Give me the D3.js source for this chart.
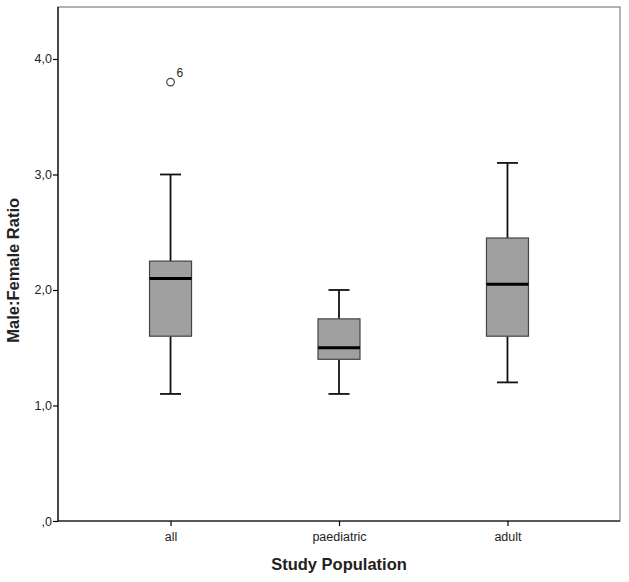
<!DOCTYPE html>
<html>
<head>
<meta charset="utf-8">
<script src="https://cdn.jsdelivr.net/npm/d3@7"></script>
<style>
  body { margin: 0; background: #fff; }
  text { font-family: "Liberation Sans", Arial, sans-serif; }
</style>
</head>
<body>
<div id="chart"></div>
<script>
// box summaries
const groups = ["all", "paediatric", "adult"];
const whiskerLow = [1.1, 1.1, 1.2];
const q1 = [1.6, 1.4, 1.6];
const median = [2.1, 1.5, 2.05];
const q3 = [2.25, 1.75, 2.45];
const whiskerHigh = [3.0, 2.0, 3.1];
const outliers = [{group: "all", value: 3.8, label: "6"}];
const yTicks = [0, 1, 2, 3, 4];

const width = 629, height = 582;
const margin = {top: 7, right: 9, bottom: 61, left: 58};

const svg = d3.select("#chart").append("svg")
  .attr("width", width)
  .attr("height", height);

const x = d3.scalePoint()
  .domain(groups)
  .range([margin.left, width - margin.right])
  .padding(0.668);

const y = d3.scaleLinear()
  .domain([0, 4.45])
  .range([height - margin.bottom, margin.top]);

const fmt = (d) => d === 0 ? ",0" : d3.format(".1f")(d).replace(".", ",");

// frame
svg.append("rect")
  .attr("x", margin.left)
  .attr("y", margin.top)
  .attr("width", width - margin.left - margin.right)
  .attr("height", height - margin.top - margin.bottom)
  .attr("fill", "none")
  .attr("stroke", "#666")
  .attr("stroke-width", 1);

const yAxis = svg.append("g")
  .attr("transform", `translate(${margin.left},0)`)
  .call(d3.axisLeft(y).tickValues(yTicks).tickFormat(fmt).tickSize(5).tickSizeOuter(0));
yAxis.select(".domain").attr("stroke", "#000").attr("stroke-width", 1.2)
  .attr("d", `M0,${y(0)}V${margin.top}`);
yAxis.selectAll("text").attr("font-size", 12.5).attr("fill", "#222").attr("x", -6);
yAxis.selectAll("line").attr("stroke-width", 1.2);

const xAxis = svg.append("g")
  .attr("transform", `translate(0,${y(0)})`)
  .call(d3.axisBottom(x).tickSize(5).tickSizeOuter(0));
xAxis.select(".domain").attr("stroke", "#000").attr("stroke-width", 1.2)
  .attr("d", `M${margin.left},0H${width - margin.right}`);
xAxis.selectAll("text").attr("font-size", 12.5).attr("fill", "#222").attr("y", 11);
xAxis.selectAll("line").attr("stroke-width", 1.2);

// boxes
const boxW = 42, capW = 21;
groups.forEach((g, i) => {
  const cx = x(g);
  const grp = svg.append("g");
  grp.append("line")
    .attr("x1", cx).attr("x2", cx)
    .attr("y1", y(whiskerHigh[i])).attr("y2", y(q3[i]))
    .attr("stroke", "#111").attr("stroke-width", 1.8);
  grp.append("line")
    .attr("x1", cx).attr("x2", cx)
    .attr("y1", y(q1[i])).attr("y2", y(whiskerLow[i]))
    .attr("stroke", "#111").attr("stroke-width", 1.8);
  [whiskerHigh[i], whiskerLow[i]].forEach(v => {
    grp.append("line")
      .attr("x1", cx - capW / 2).attr("x2", cx + capW / 2)
      .attr("y1", y(v)).attr("y2", y(v))
      .attr("stroke", "#111").attr("stroke-width", 1.8);
  });
  grp.append("rect")
    .attr("x", cx - boxW / 2)
    .attr("y", y(q3[i]))
    .attr("width", boxW)
    .attr("height", y(q1[i]) - y(q3[i]))
    .attr("fill", "#a0a0a0")
    .attr("stroke", "#444")
    .attr("stroke-width", 1.2);
  grp.append("line")
    .attr("x1", cx - boxW / 2).attr("x2", cx + boxW / 2)
    .attr("y1", y(median[i])).attr("y2", y(median[i]))
    .attr("stroke", "#000").attr("stroke-width", 3);
});

// outliers
outliers.forEach(o => {
  svg.append("circle")
    .attr("cx", x(o.group))
    .attr("cy", y(o.value))
    .attr("r", 3.8)
    .attr("fill", "#fff")
    .attr("stroke", "#444")
    .attr("stroke-width", 1.2);
  svg.append("text")
    .attr("x", x(o.group) + 6)
    .attr("y", y(o.value) - 5)
    .attr("font-size", 12)
    .attr("fill", "#222")
    .text(o.label);
});

// axis titles
svg.append("text")
  .attr("x", x("paediatric"))
  .attr("y", 570)
  .attr("text-anchor", "middle")
  .attr("font-size", 16.5)
  .attr("font-weight", "bold")
  .attr("fill", "#222")
  .text("Study Population");

svg.append("text")
  .attr("transform", `translate(19,${y(2.17)}) rotate(-90)`)
  .attr("text-anchor", "middle")
  .attr("font-size", 16.5)
  .attr("font-weight", "bold")
  .attr("fill", "#222")
  .text("Male:Female Ratio");
</script>
</body>
</html>
